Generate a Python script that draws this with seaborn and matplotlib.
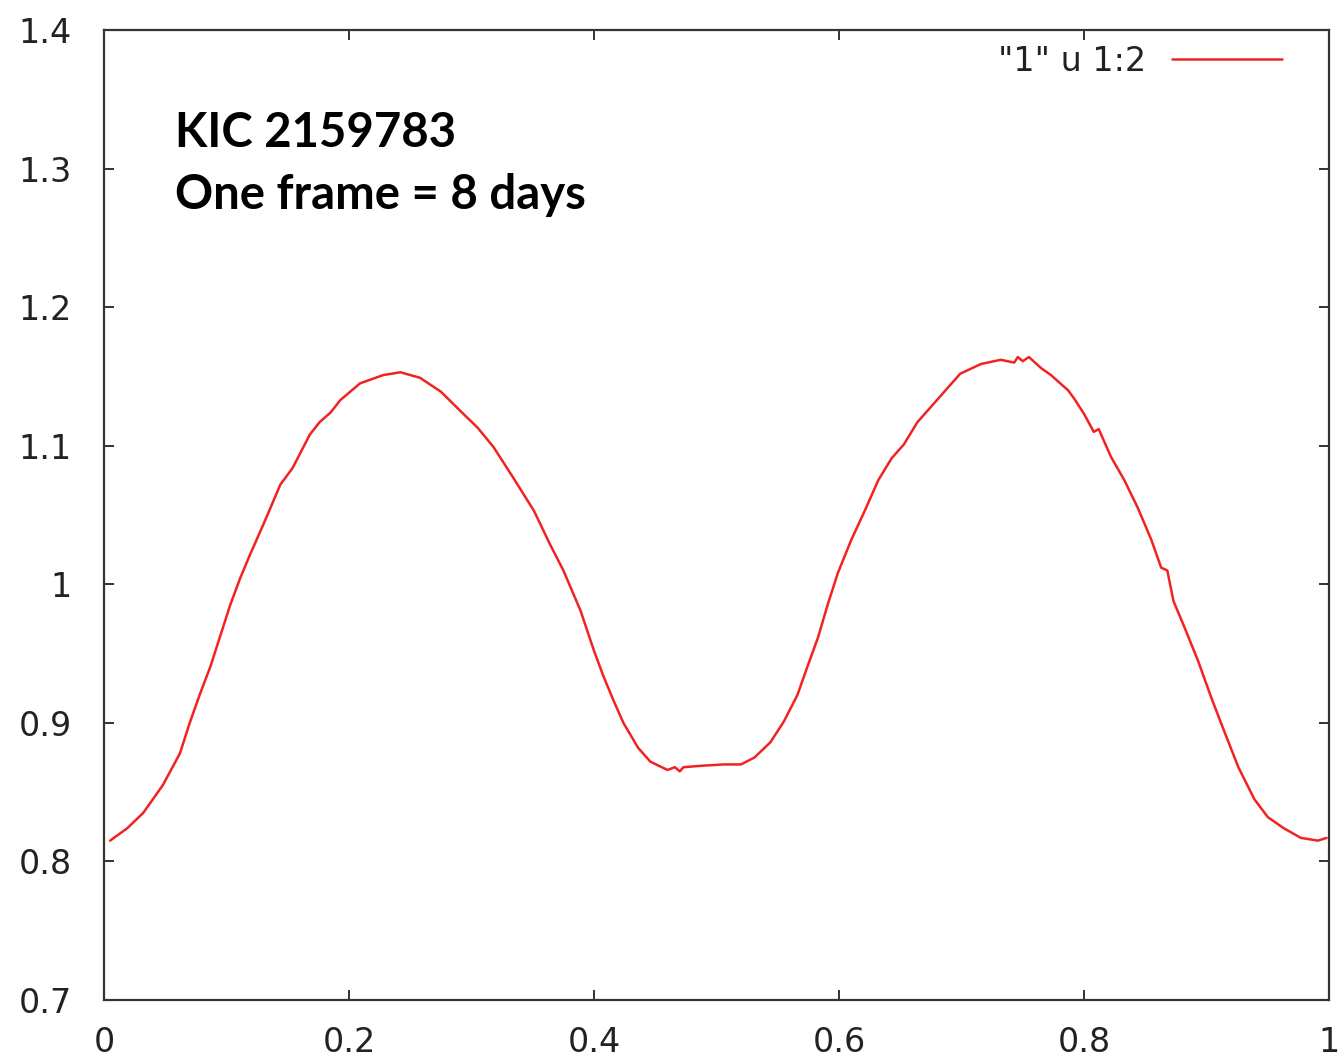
import numpy as np
import pandas as pd
import matplotlib
matplotlib.use("Agg")
import matplotlib.pyplot as plt
from matplotlib.ticker import FuncFormatter, MultipleLocator
import seaborn as sns

# phase-folded light curve
phase = [0.005, 0.019, 0.032, 0.048, 0.062, 0.070, 0.078, 0.087, 0.095, 0.103,
         0.111, 0.119, 0.130, 0.144, 0.154, 0.168, 0.176, 0.185, 0.193, 0.209,
         0.228, 0.242, 0.258, 0.275, 0.291, 0.305, 0.318, 0.334, 0.351, 0.364,
         0.375, 0.389, 0.400, 0.408, 0.416, 0.424, 0.436, 0.446, 0.460, 0.466,
         0.470, 0.473, 0.487, 0.506, 0.520, 0.531, 0.544, 0.555, 0.566, 0.574,
         0.583, 0.591, 0.599, 0.610, 0.621, 0.632, 0.643, 0.653, 0.664, 0.675,
         0.689, 0.699, 0.716, 0.732, 0.743, 0.746, 0.750, 0.755, 0.765, 0.773,
         0.787, 0.792, 0.800, 0.808, 0.812, 0.822, 0.833, 0.844, 0.855, 0.863,
         0.868, 0.873, 0.882, 0.893, 0.904, 0.914, 0.926, 0.939, 0.950, 0.963,
         0.977, 0.991, 0.998]
flux = [0.815, 0.824, 0.835, 0.855, 0.878, 0.900, 0.920, 0.941, 0.963, 0.985,
        1.004, 1.021, 1.043, 1.072, 1.084, 1.108, 1.117, 1.124, 1.133, 1.145,
        1.151, 1.153, 1.149, 1.139, 1.125, 1.113, 1.099, 1.077, 1.053, 1.029,
        1.010, 0.981, 0.952, 0.933, 0.916, 0.900, 0.882, 0.872, 0.866, 0.868,
        0.865, 0.868, 0.869, 0.870, 0.870, 0.875, 0.886, 0.901, 0.920, 0.940,
        0.962, 0.986, 1.008, 1.032, 1.053, 1.075, 1.091, 1.101, 1.117, 1.128,
        1.142, 1.152, 1.159, 1.162, 1.160, 1.164, 1.161, 1.164, 1.156, 1.151,
        1.140, 1.134, 1.123, 1.110, 1.112, 1.092, 1.075, 1.055, 1.032, 1.012,
        1.010, 0.988, 0.969, 0.945, 0.918, 0.895, 0.868, 0.845, 0.832, 0.824,
        0.817, 0.815, 0.817]

series_label = '"1" u 1:2'
annotation = "KIC 2159783\nOne frame = 8 days"

sns.set_style("ticks")
plt.rcParams['font.family'] = ['DejaVu Sans']

df = pd.DataFrame({"phase": phase, "flux": flux})

fig = plt.figure(figsize=(13.41, 10.60), dpi=100)
ax = fig.add_axes([104 / 1341, 60 / 1060, 1225 / 1341, 970 / 1060])

sns.lineplot(data=df, x="phase", y="flux", ax=ax, color="#f22222",
             linewidth=1.8, sort=False, label=series_label)

ax.set_xlim(0, 1)
ax.set_ylim(0.7, 1.4)
ax.xaxis.set_major_locator(MultipleLocator(0.2))
ax.yaxis.set_major_locator(MultipleLocator(0.1))
fmt = FuncFormatter(lambda v, _: f"{round(v, 2):g}")
ax.xaxis.set_major_formatter(fmt)
ax.yaxis.set_major_formatter(fmt)
ax.set_xlabel("")
ax.set_ylabel("")

for s in ax.spines.values():
    s.set_visible(True)
    s.set_linewidth(1.6)
    s.set_color("#333333")

ax.tick_params(axis="both", which="major", direction="in", length=7, width=1.4,
               color="#333333", labelsize=24, labelcolor="#222222",
               top=True, right=True)
ax.tick_params(axis="x", pad=19)
ax.tick_params(axis="y", pad=23)

ax.text(0.058, 0.917, annotation, transform=ax.transAxes, ha="left", va="top",
        fontsize=34, fontweight="bold", family=["Lato", "DejaVu Sans"],
        color="black", linespacing=1.5)

leg = ax.legend(loc="upper right", bbox_to_anchor=(0.962, 0.985), frameon=False,
                markerfirst=False, fontsize=24, handlelength=3.3,
                handletextpad=0.8, borderpad=0, borderaxespad=0)
for t in leg.get_texts():
    t.set_color("#222222")

fig.savefig("out.png", dpi=100)
